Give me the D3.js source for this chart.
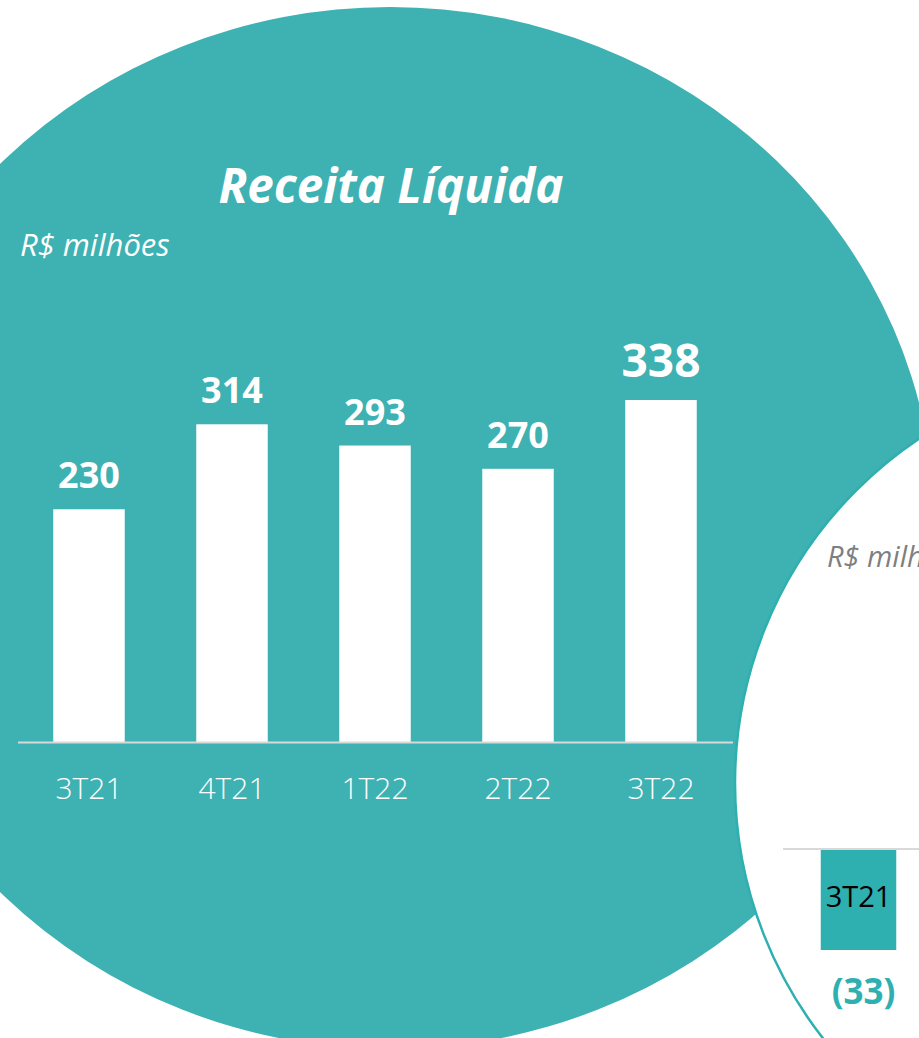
<!DOCTYPE html>
<html>
<head>
<meta charset="utf-8">
<script src="https://cdn.jsdelivr.net/npm/d3@7"></script>
<style>
  html, body { margin: 0; padding: 0; background: #ffffff; overflow: hidden; }
  svg { display: block; }
  text { font-family: "Open Sans", "Noto Sans", sans-serif; }
</style>
</head>
<body>
<svg id="chart" width="919" height="1038"></svg>
<script>
// ---- data ----
const title = "Receita Líquida";
const unitLabel = "R$ milhões";
const categories = ["3T21", "4T21", "1T22", "2T22", "3T22"];
const values = [230, 314, 293, 270, 338];
const valueLabels = ["230", "314", "293", "270", "338"];

// partially visible second chart on the right
const categories2 = ["3T21"];
const values2 = [-33];
const valueLabels2 = ["(33)"];
const unitLabel2 = "R$ milhões";

// ---- drawing ----
const svg = d3.select("#chart");
const teal = "#3eb1b2";
const teal2 = "#2eafb0";

// big teal ellipse background
svg.append("ellipse")
  .attr("cx", 390).attr("cy", 528)
  .attr("rx", 545).attr("ry", 521)
  .attr("fill", teal);

// main chart
const x = d3.scaleBand().domain(categories)
  .range([17.5, 732.5]).paddingInner(0.5).paddingOuter(0.25);
const y = d3.scaleLinear().domain([0, 338]).range([742, 400]);

svg.append("text")
  .attr("x", 391).attr("y", 203)
  .attr("text-anchor", "middle")
  .attr("fill", "#fff")
  .style("font-size", "47.5px").style("font-weight", 700).style("font-style", "italic")
  .text(title);

svg.append("text")
  .attr("x", 20).attr("y", 256)
  .attr("fill", "#fff")
  .style("font-size", "31px").style("font-style", "italic")
  .text(unitLabel);

svg.append("g").selectAll("rect").data(values).join("rect")
  .attr("x", (d, i) => x(categories[i]))
  .attr("y", d => y(d))
  .attr("width", x.bandwidth())
  .attr("height", d => y(0) - y(d))
  .attr("fill", "#fff");

const maxV = d3.max(values);
svg.append("g").selectAll("text").data(values).join("text")
  .attr("x", (d, i) => x(categories[i]) + x.bandwidth() / 2)
  .attr("y", d => y(d) - (d === maxV ? 23 : 21))
  .attr("text-anchor", "middle")
  .attr("fill", "#fff")
  .style("font-weight", 700)
  .style("font-size", d => d === maxV ? "46px" : "36px")
  .text((d, i) => valueLabels[i]);

const xAxis = svg.append("g")
  .attr("transform", `translate(0,${y(0)})`)
  .call(d3.axisBottom(x).tickSize(0).tickSizeOuter(0));
xAxis.select(".domain").attr("stroke", "#d9d9d9").attr("stroke-width", 2);
xAxis.selectAll("text")
  .attr("y", 57).attr("dy", 0)
  .attr("fill", "#fff")
  .style("font-family", "'Open Sans', sans-serif")
  .style("font-size", "30px").style("font-weight", 300);

// right-hand white circle with teal outline
svg.append("circle")
  .attr("cx", 1149).attr("cy", 783).attr("r", 414)
  .attr("fill", "#fff")
  .attr("stroke", teal2).attr("stroke-width", 2.5);

svg.append("text")
  .attr("x", 827).attr("y", 567)
  .attr("fill", "#7f7f7f")
  .style("font-size", "29px").style("font-style", "italic")
  .text(unitLabel2);

const x2 = d3.scaleBand().domain(categories2)
  .range([783, 934]).paddingInner(0.5).paddingOuter(0.25);
const y2 = d3.scaleLinear().domain([-33, 0]).range([950, 850]);

svg.append("line")
  .attr("x1", 783).attr("x2", 919)
  .attr("y1", y2(0) - 1).attr("y2", y2(0) - 1)
  .attr("stroke", "#d9d9d9").attr("stroke-width", 2);

svg.append("g").selectAll("rect").data(values2).join("rect")
  .attr("x", (d, i) => x2(categories2[i]))
  .attr("y", d => y2(0))
  .attr("width", x2.bandwidth())
  .attr("height", d => y2(d) - y2(0))
  .attr("fill", teal2);

svg.append("g").selectAll("text").data(categories2).join("text")
  .attr("x", d => x2(d) + x2.bandwidth() / 2)
  .attr("y", 907)
  .attr("text-anchor", "middle")
  .attr("fill", "#000")
  .style("font-size", "29px")
  .text(d => d);

svg.append("g").selectAll("text").data(values2).join("text")
  .attr("x", (d, i) => x2(categories2[i]) + x2.bandwidth() / 2 + 5)
  .attr("y", d => y2(d) + 54)
  .attr("text-anchor", "middle")
  .attr("fill", teal2)
  .style("font-size", "35px").style("font-weight", 700)
  .text((d, i) => valueLabels2[i]);
</script>
</body>
</html>
